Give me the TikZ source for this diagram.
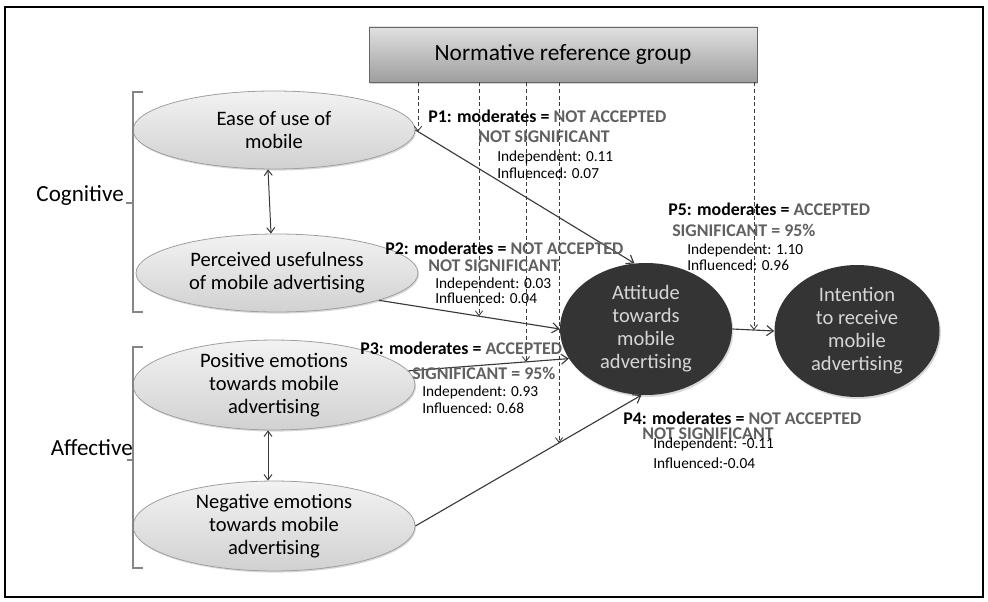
\documentclass[tikz,border=0pt]{standalone}
\usepackage{fontspec}
\setmainfont{Carlito}
\usetikzlibrary{shapes.geometric,arrows.meta,shadows}

\definecolor{ink}{HTML}{3A3A3A}
\definecolor{softgray}{HTML}{606060}
\definecolor{bracketgray}{HTML}{858585}
\definecolor{darkfill}{HTML}{343434}
\definecolor{darktext}{HTML}{D6D6D6}

\begin{document}
\begin{tikzpicture}[x=0.75pt,y=-0.75pt,
  construct/.style={ellipse, draw=gray!75, line width=0.6pt,
    top color=white!95!black, bottom color=white!82!black,
    minimum width=211.5pt, minimum height=58.5pt, inner sep=0pt,
    align=center, font=\fontsize{15.4}{17.2}\selectfont,
    drop shadow={shadow xshift=0.8pt, shadow yshift=-1.2pt, opacity=0.3}},
  outcome/.style={ellipse, fill=darkfill, draw=none, inner sep=0pt,
    minimum height=99pt, text=darktext, align=center,
    font=\fontsize{15.4}{17.2}\selectfont,
    drop shadow={shadow xshift=1pt, shadow yshift=-1.5pt, opacity=0.3}},
  groupbox/.style={rectangle, draw=gray!80!black, line width=0.7pt,
    top color=white!88!black, bottom color=white!62!black,
    minimum width=291pt, minimum height=41.25pt, inner sep=0pt,
    font=\fontsize{17.5}{20}\selectfont,
    drop shadow={shadow xshift=1pt, shadow yshift=-1.5pt, opacity=0.35}},
  conn/.style={draw=ink, line width=0.85pt, -{Straight Barb[length=5pt,width=7.5pt]}},
  link/.style={draw=ink, line width=0.75pt, {Straight Barb[length=4pt,width=6pt]}-{Straight Barb[length=4pt,width=6pt]}},
  modline/.style={draw=ink, line width=0.65pt, dash pattern=on 3pt off 2pt,
    -{Straight Barb[length=3.5pt,width=5.5pt]}},
  brace/.style={draw=bracketgray, line width=0.8pt},
  sidelabel/.style={inner sep=0pt, anchor=base east, font=\fontsize{17.3}{20}\selectfont},
  hyp/.style={inner sep=0pt, anchor=base west, font=\bfseries\fontsize{13.4}{16}\selectfont},
  stat/.style={inner sep=0pt, anchor=base west, font=\fontsize{11.5}{13}\selectfont},
]
\useasboundingbox (0,0) rectangle (988,602);

% outer frame
\draw[line width=1.2pt] (5,7) rectangle (983,597);

% constructs
\node[groupbox] (nrg) at (563,54.5) {Normative reference group};
\node[construct] (ease) at (274,130) {Ease of use of\\mobile};
\node[construct] (use)  at (277,273) {Perceived usefulness\\of mobile advertising};
\node[construct] (pos)  at (274,385) {Positive emotions\\towards mobile\\advertising};
\node[construct] (neg)  at (274,526) {Negative emotions\\towards mobile\\advertising};
\node[outcome, minimum width=129pt] (att) at (646,329) {Attitude\\towards\\mobile\\advertising};
\node[outcome, minimum width=123.75pt] (int) at (857,331) {Intention\\to receive\\mobile\\advertising};

% group brackets
\draw[brace] (143,92) -- (133,92) -- (133,312) -- (143,312);
\draw[brace] (133,203) -- (126,203);
\node[sidelabel] (cog) at (124,202) {Cognitive};
\draw[brace] (143,347) -- (133,347) -- (133,568) -- (143,568);
\draw[brace] (133,460) -- (127,460);
\node[sidelabel] (aff) at (133,455) {Affective};

% correlations inside each group
\draw[link] ([xshift=-4.5pt]ease.south) -- ([xshift=-4.5pt]use.north);
\draw[link] ([xshift=-4.5pt]pos.south) -- ([xshift=-4.5pt]neg.north);

% direct paths
\draw[conn] (ease.east) -- (att.100);
\draw[conn] (use.-15) -- (att.180);
\draw[conn] (pos.6) -- (att.201);
\draw[conn] (neg.east) -- (att.266);
\draw[conn] (att.east) -- (int.west);

% points where the moderator meets each path
\coordinate (m1) at (intersection of ease.east--att.100 and 418,0--418,600);
\coordinate (m2) at (intersection of use.-15--att.180 and 479,0--479,600);
\coordinate (m3) at (intersection of pos.6--att.201 and 526,0--526,600);
\coordinate (m4) at (intersection of neg.east--att.266 and 559,0--559,600);
\coordinate (m5) at (intersection of att.east--int.west and 754,0--754,600);

% moderating effects of the reference group
\foreach \m in {m1,m2,m3,m4,m5}
  \draw[modline] (\m |- nrg.south) -- (\m);

% hypothesis results
\node[hyp] (p1a) at (428,123) {P1: moderates = \textcolor{softgray}{NOT ACCEPTED}};
\node[hyp, text=softgray] (p1b) at (478,143) {NOT SIGNIFICANT};
\node[stat] (p1c) at (497,162) {Independent: 0.11};
\node[stat] (p1d) at (497,179) {Influenced: 0.07};

\node[hyp] (p2a) at (385,254) {P2: moderates = \textcolor{softgray}{NOT ACCEPTED}};
\node[hyp, text=softgray] (p2b) at (428,272) {NOT SIGNIFICANT};
\node[stat] (p2c) at (435,288) {Independent: 0.03};
\node[stat] (p2d) at (435,303) {Influenced: 0.04};

\node[hyp] (p3a) at (360,354) {P3: moderates = \textcolor{softgray}{ACCEPTED}};
\node[hyp, text=softgray] (p3b) at (412,379) {SIGNIFICANT = 95\%};
\node[stat] (p3c) at (422,396) {Independent: 0.93};
\node[stat] (p3d) at (422,413) {Influenced: 0.68};

\node[hyp] (p5a) at (668,216) {P5: moderates = \textcolor{softgray}{ACCEPTED}};
\node[hyp, text=softgray] (p5b) at (672,237) {SIGNIFICANT = 95\%};
\node[stat] (p5c) at (687,255) {Independent: 1.10};
\node[stat] (p5d) at (687,271) {Influenced: 0.96};

\node[hyp] (p4a) at (623,424) {P4: moderates = \textcolor{softgray}{NOT ACCEPTED}};
\node[hyp, text=softgray] (p4b) at (642,439) {NOT SIGNIFICANT};
\node[stat] (p4c) at (653,448) {Independent: -0.11};
\node[stat] (p4d) at (653,468) {Influenced:-0.04};
\end{tikzpicture}
\end{document}
